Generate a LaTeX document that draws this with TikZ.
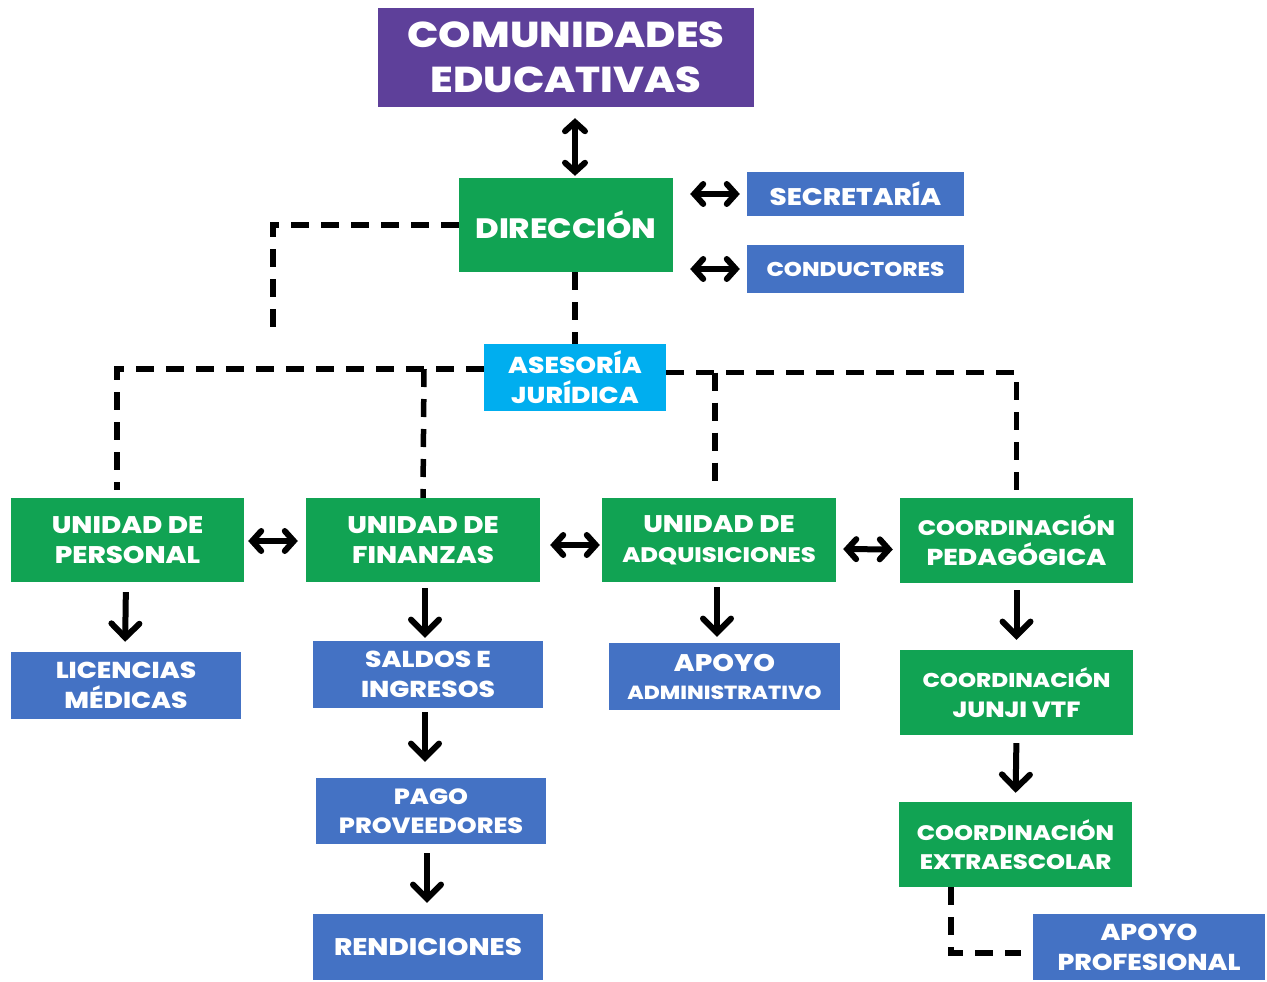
\documentclass[tikz,border=0pt]{standalone}
\usepackage{fontspec}
\setmainfont{Poppins}[FakeStretch=1.15, BoldFont={Poppins ExtraBold}]
\usetikzlibrary{arrows.meta}
\definecolor{cpurple}{RGB}{94,64,154}
\definecolor{cgreen}{RGB}{17,163,83}
\definecolor{cblue}{RGB}{68,114,196}
\definecolor{ccyan}{RGB}{0,174,239}
\tikzset{
  box/.style={rectangle, inner sep=0pt, text=white, align=center, font=\bfseries\fontsize{22}{30}\selectfont},
  gbox/.style={box, fill=cgreen},
  bbox/.style={box, fill=cblue},
  arr/.style={line width=6pt, -{Straight Barb[length=14pt,width=28pt,line cap=round]}},
  dbl/.style={line width=6pt, {Straight Barb[length=9pt,width=20pt,line cap=round]}-{Straight Barb[length=9pt,width=20pt,line cap=round]}},
  dsh/.style={line width=5.5pt, dash pattern=on 18pt off 12pt},
}
\begin{document}
\begin{tikzpicture}[x=1pt,y=-1pt]
\fill[white] (0,0) rectangle (1267,982);
\useasboundingbox (0,0) rectangle (1267,982);

\node[box, fill=cpurple, minimum width=376pt, minimum height=99pt, font=\bfseries\fontsize{36}{45}\selectfont] (com) at (566,57.5) {COMUNIDADES\\EDUCATIVAS};
\node[gbox, minimum width=214pt, minimum height=94pt, font=\bfseries\fontsize{28}{30}\selectfont] (dir) at (566,225) {DIRECCIÓN};
\node[bbox, minimum width=217pt, minimum height=44pt, font=\bfseries\fontsize{24}{30}\selectfont] (sec) at (855.5,194) {SECRETARÍA};
\node[bbox, minimum width=217pt, minimum height=48pt, font=\bfseries\fontsize{20}{30}\selectfont] (con) at (855.5,269) {CONDUCTORES};
\node[box, fill=ccyan, minimum width=182pt, minimum height=67pt, font=\bfseries\fontsize{23}{30}\selectfont] (ase) at (575,377.5) {ASESORÍA\\JURÍDICA};

\node[gbox, minimum width=233pt, minimum height=84pt, font=\bfseries\fontsize{24}{30}\selectfont] (per) at (127.5,540) {UNIDAD DE\\PERSONAL};
\node[gbox, minimum width=234pt, minimum height=84pt, font=\bfseries\fontsize{24}{30}\selectfont] (fin) at (423,540) {UNIDAD DE\\FINANZAS};
\node[gbox, minimum width=234pt, minimum height=84pt, font=\bfseries\fontsize{24}{30}\selectfont] (adq) at (719,540) {UNIDAD DE\\{\fontsize{21}{30}\selectfont ADQUISICIONES}};
\node[gbox, minimum width=233pt, minimum height=85pt, font=\bfseries\fontsize{21}{30}\selectfont] (ped) at (1016.5,540.5) {COORDINACIÓN\\{\fontsize{23}{30}\selectfont PEDAGÓGICA}};

\node[bbox, minimum width=230pt, minimum height=67pt, font=\bfseries\fontsize{23}{30}\selectfont] (lic) at (126,685.5) {LICENCIAS\\MÉDICAS};
\node[bbox, minimum width=230pt, minimum height=67pt, font=\bfseries\fontsize{23}{30}\selectfont] (sal) at (428,674.5) {SALDOS E\\INGRESOS};
\node[bbox, minimum width=231pt, minimum height=67pt, font=\bfseries\fontsize{24}{28}\selectfont] (apa) at (724.5,676.5) {APOYO\\{\fontsize{19}{28}\selectfont ADMINISTRATIVO}};
\node[gbox, minimum width=233pt, minimum height=85pt, font=\bfseries\fontsize{20}{30}\selectfont] (jun) at (1016.5,692.5) {COORDINACIÓN\\{\fontsize{22}{30}\selectfont JUNJI VTF}};
\node[bbox, minimum width=230pt, minimum height=66pt, font=\bfseries\fontsize{22}{29}\selectfont] (pag) at (431,811) {PAGO\\PROVEEDORES};
\node[bbox, minimum width=230pt, minimum height=66pt, font=\bfseries\fontsize{24}{30}\selectfont] (ren) at (428,947) {RENDICIONES};
\node[gbox, minimum width=233pt, minimum height=85pt, font=\bfseries\fontsize{21}{29}\selectfont] (ext) at (1015.5,844.5) {COORDINACIÓN\\EXTRAESCOLAR};
\node[bbox, minimum width=232pt, minimum height=66pt, font=\bfseries\fontsize{23}{30}\selectfont] (apo) at (1149,947) {APOYO\\PROFESIONAL};

% solid arrows
\draw[dbl, shorten <=11pt, shorten >=2pt] ([xshift=9pt]com.south) -- ([xshift=9pt]dir.north);
\draw[dbl, shorten <=17pt, shorten >=7pt] (sec.west -| dir.east) -- (sec.west);
\draw[dbl, shorten <=17pt, shorten >=7pt] (con.west -| dir.east) -- (con.west);
\draw[dbl, shorten <=4pt, shorten >=8pt] ([yshift=-1pt]per.east) -- ([yshift=-1pt]fin.west);
\draw[dbl, shorten <=10pt, shorten >=2pt] ([yshift=-5pt]fin.east) -- ([yshift=-5pt]adq.west);
\draw[dbl, shorten <=7pt, shorten >=7pt] ([yshift=-9pt]adq.east) -- ([yshift=-9pt]ped.west);

\draw[arr, shorten <=10pt, shorten >=10pt] (lic.north |- per.south) -- ([xshift=-1pt]lic.north);
\draw[arr, shorten <=6pt, shorten >=3pt] ([xshift=2pt]fin.south) -- ([xshift=2pt]fin.south |- sal.north);
\draw[arr, shorten <=5pt, shorten >=6pt] ([xshift=-2pt]adq.south) -- ([xshift=-2pt]adq.south |- apa.north);
\draw[arr, shorten <=7pt, shorten >=10pt] (ped.south) -- (jun.north);
\draw[arr, shorten <=4pt, shorten >=16pt] ([xshift=-3pt]sal.south) -- ([xshift=-3pt]sal.south |- pag.north);
\draw[arr, shorten <=9pt, shorten >=11pt] ([xshift=-4pt]pag.south) -- ([xshift=-4pt]pag.south |- ren.north);
\draw[arr, shorten <=8pt, shorten >=9pt] (jun.south) -- (ext.south |- ext.north);

% dashed connectors
\coordinate (dl) at (273,338);
\coordinate (pd) at (117,490);
\coordinate (fj) at (424,369);
\coordinate (aj) at (715,372.5);
\coordinate (eb) at (951,953);
\draw[dsh] (dir.west) -| (dl);
\draw[dsh] (ase.north |- dir.south) -- (ase.north);
\draw[dsh] ([yshift=8.5pt]ase.west) -| (pd);
\draw[dsh] (fj) -- (fin.north);
\draw[dsh, shorten >=8pt] ([yshift=5pt]ase.east) -| (ped.north);
\draw[dsh, shorten >=8pt] (aj) -- (aj |- adq.north);
\draw[dsh, shorten >=12pt] (ext.south -| eb) |- ([yshift=-6pt]apo.west);
\end{tikzpicture}
\end{document}
